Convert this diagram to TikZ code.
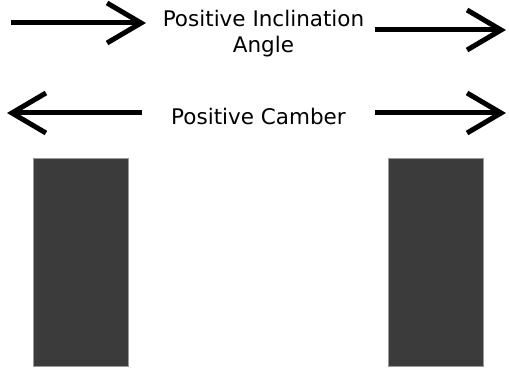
\documentclass[tikz,border=0pt]{standalone}
\usepackage{fontspec}
\setmainfont{DejaVu Sans}
\usetikzlibrary{arrows.meta}

\begin{document}
\begin{tikzpicture}[x=1pt, y=-1pt,
  barb/.style={line width=5pt, -{Straight Barb[length=34pt, width=40pt, line width=5pt]}},
  tyre/.style={fill=black!77, draw=black!40, line width=0.6pt},
  lbl/.style={font=\fontsize{21.5}{26}\selectfont, align=center, inner sep=0pt}]
\useasboundingbox (0,0) rectangle (509,371);
% arrow ends
\coordinate (ia1) at (11,23);
\coordinate (ia2) at (146,23);
\coordinate (ib1) at (375,30);
\coordinate (ib2) at (506,30);
\coordinate (ca1) at (142,113);
\coordinate (ca2) at (7,113);
\coordinate (cb1) at (375,113);
\coordinate (cb2) at (506,113);
\draw[barb] (ia1)--(ia2);
\draw[barb] (ib1)--(ib2);
\draw[barb] (ca1)--(ca2);
\draw[barb] (cb1)--(cb2);
\path
(263.5,34) node[lbl] (incl) {Positive Inclination\\Angle};
\path
(258.5,125) node[lbl, anchor=base] (camber) {Positive Camber};
% tyres
\path [tyre] (33,158) rectangle (128,366);
\path [tyre] (388,158) rectangle (483,366);
\end{tikzpicture}
\end{document}
